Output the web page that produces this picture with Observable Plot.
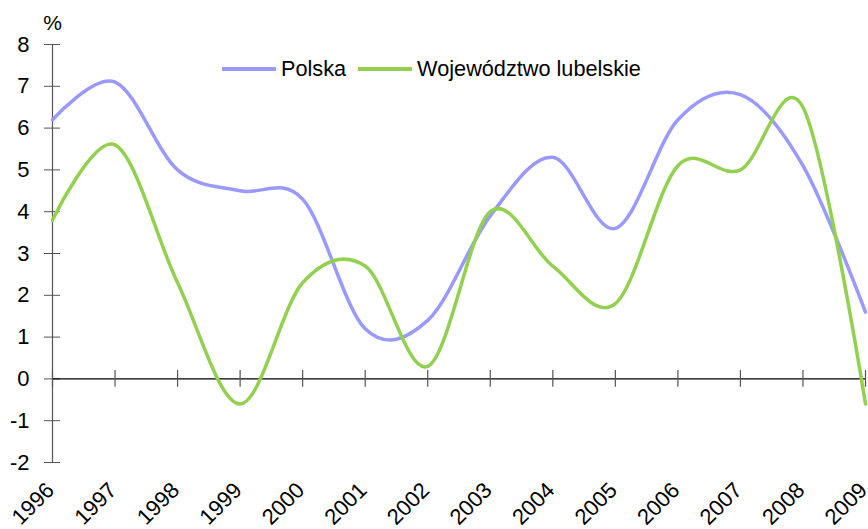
<!DOCTYPE html>
<html><head><meta charset="utf-8">
<script src="https://cdn.jsdelivr.net/npm/d3@7"></script>
<script src="https://cdn.jsdelivr.net/npm/@observablehq/plot@0.6"></script>
<style>
body{margin:0;background:#fff;font-family:"Liberation Sans",Arial,sans-serif;}
#wrap{position:relative;width:868px;height:529px;overflow:hidden;}
#legend{position:absolute;left:222px;top:57px;display:flex;align-items:center;font-size:21.7px;line-height:24px;color:#000;}
#legend .item{display:flex;align-items:center;margin-right:12px;}
#legend svg{margin-right:5px;}
</style></head><body>
<div id="wrap"><div id="chart"></div><div id="legend"></div></div>
<script>
const years = [1996,1997,1998,1999,2000,2001,2002,2003,2004,2005,2006,2007,2008,2009];
const polska = [6.2,7.1,5.0,4.5,4.3,1.2,1.4,3.9,5.3,3.6,6.2,6.8,5.1,1.6];
const lubelskie = [3.8,5.6,2.3,-0.6,2.3,2.7,0.3,4.0,2.7,1.8,5.1,5.0,6.5,-0.6];
const seriesNames = ["Polska","Województwo lubelskie"];
const seriesColors = ["#9999ff","#92d050"];
const yTicks = [-2,-1,0,1,2,3,4,5,6,7,8];
const yUnit = "%";

const data = [];
years.forEach((yr,i)=>{
  data.push({year:yr, value:polska[i], series:seriesNames[0]});
  data.push({year:yr, value:lubelskie[i], series:seriesNames[1]});
});

const chart = Plot.plot({
  width:868, height:529,
  marginLeft:52, marginRight:3, marginTop:44, marginBottom:67,
  style:{fontFamily:'"Liberation Sans",Arial,sans-serif', fontSize:"20px", color:"#000", background:"#fff", overflow:"visible"},
  x:{domain:[1996,2009]},
  y:{domain:[-2,8]},
  color:{domain:seriesNames, range:seriesColors},
  marks:[
    Plot.ruleX([1996], {stroke:"#555", strokeWidth:1.2}),
    Plot.axisY({ticks:yTicks, tickSize:8, tickPadding:15, fontSize:22, tickFormat:d=>String(d), label:null, stroke:"#555", strokeOpacity:1}),
    Plot.axisY({ticks:yTicks, tickSize:8, dx:8, tickFormat:()=>"", label:null, stroke:"#555", strokeOpacity:1}),
    Plot.ruleY([0], {stroke:"#000", strokeWidth:1.2}),
    Plot.ruleX(years, {y1:-0.2, y2:0.2, stroke:"#555", strokeWidth:1.2}),
    Plot.axisX({ticks:years, tickFormat:d=>String(d), tickSize:0, tickRotate:-45, tickPadding:24, dx:-2, dy:0, fontSize:22, label:null}),
    Plot.line(data, {x:"year", y:"value", stroke:"series", strokeWidth:3.5, curve:"cardinal", tension:0}),
    Plot.text([yUnit], {frameAnchor:"top-left", dy:-29, fontSize:21, textAnchor:"middle"})
  ]
});
document.getElementById("chart").appendChild(chart);

const legend = document.getElementById("legend");
seriesNames.forEach((name,i)=>{
  const item = document.createElement("div");
  item.className = "item";
  item.innerHTML = `<svg width="54" height="8"><line x1="1" y1="4" x2="53" y2="4" stroke="${seriesColors[i]}" stroke-width="4" stroke-linecap="round"/></svg><span>${name}</span>`;
  legend.appendChild(item);
});
</script>
</body></html>
